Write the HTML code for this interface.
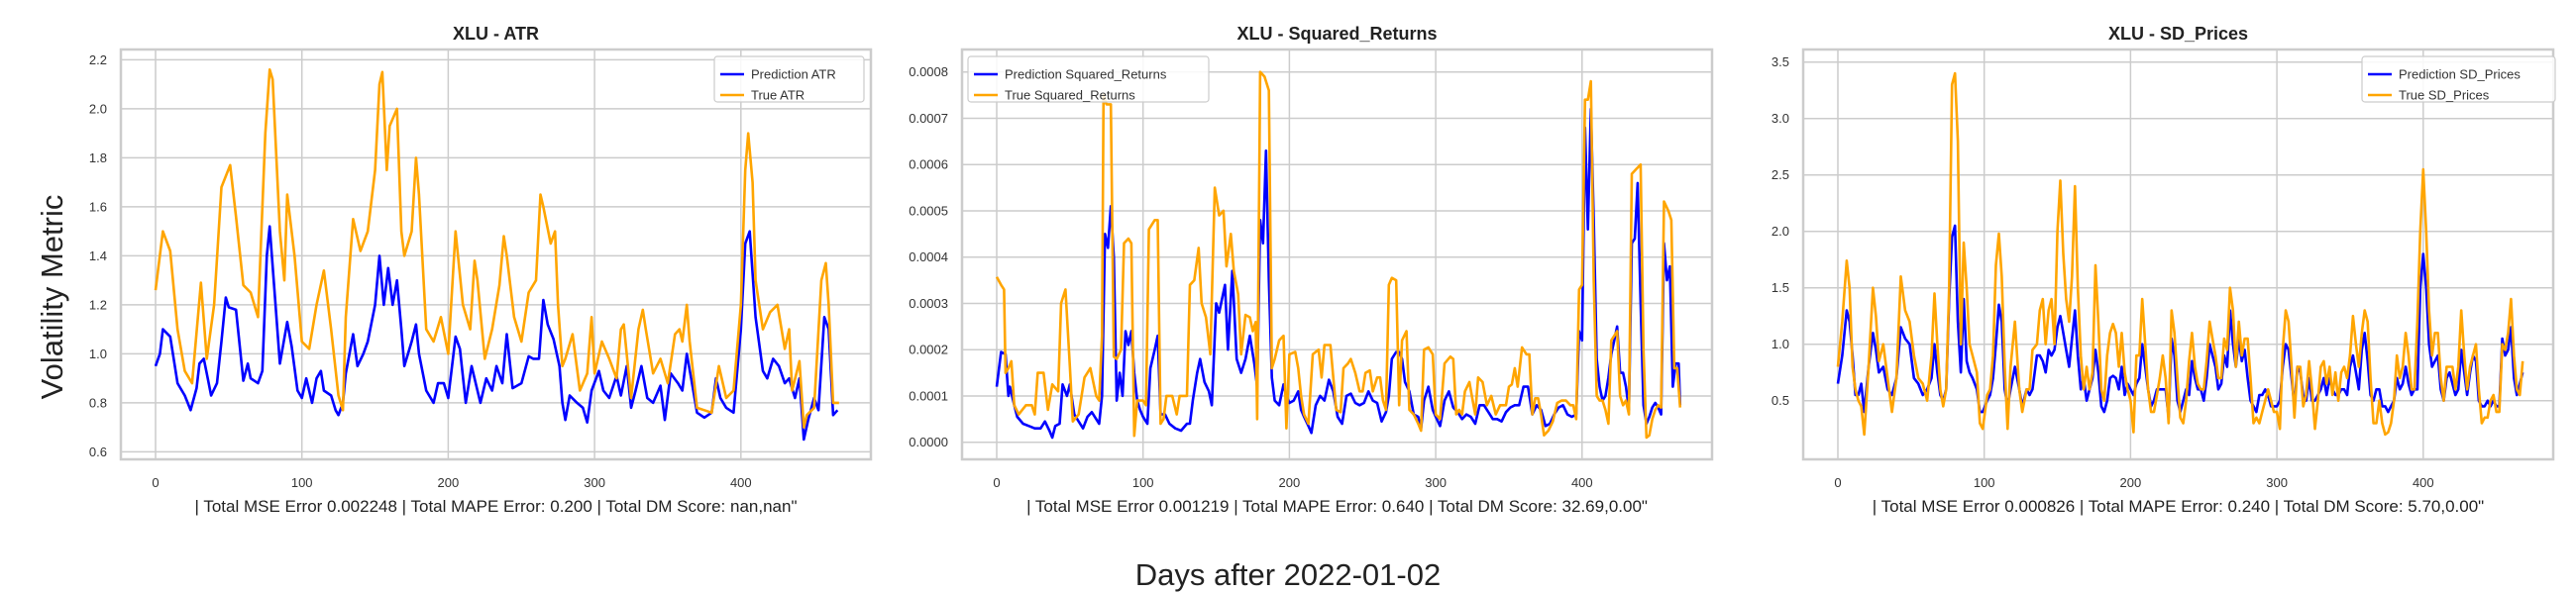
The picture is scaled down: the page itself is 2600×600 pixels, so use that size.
<!DOCTYPE html>
<html><head><meta charset="utf-8"><style>
html,body{margin:0;padding:0;background:#fff;}
svg{display:block;font-family:"Liberation Sans","DejaVu Sans",sans-serif;}
</style></head><body>
<svg id="chart" width="2600" height="600" viewBox="0 0 2600 600" xmlns="http://www.w3.org/2000/svg">
<text x="63" y="300" font-size="31" fill="#222" text-anchor="middle" transform="rotate(-90 63 300)">Volatility Metric</text>
<text x="1300" y="591" font-size="31" fill="#222" text-anchor="middle">Days after 2022-01-02</text>
</svg>
<script>
// ---------- ATR ----------
const atrTrueDays=[0,5,10,15,20,25,31,35,40,45,51,55,60,65,70,75,78,80,85,88,90,95,100,105,110,115,120,125,128,130,135,140,145,150,153,155,158,160,165,168,170,175,178,180,185,190,195,200,205,210,215,218,220,225,230,235,238,240,245,250,255,260,263,265,270,273,275,278,280,285,290,295,298,300,305,310,315,318,320,325,330,333,335,340,345,350,355,358,360,363,365,370,375,380,385,390,395,400,403,405,408,410,415,420,425,430,433,435,440,443,445,450,455,458,460,463,467];
const atrTrueVals=[1.26,1.5,1.42,1.1,0.93,0.88,1.29,0.98,1.2,1.68,1.77,1.56,1.28,1.25,1.15,1.9,2.16,2.12,1.5,1.3,1.65,1.4,1.05,1.02,1.2,1.34,1.1,0.83,0.77,1.15,1.55,1.42,1.5,1.75,2.1,2.15,1.75,1.93,2.0,1.5,1.4,1.5,1.8,1.65,1.1,1.05,1.15,1.0,1.5,1.2,1.1,1.38,1.3,0.98,1.1,1.28,1.48,1.4,1.15,1.05,1.25,1.3,1.65,1.6,1.45,1.5,1.2,0.95,0.98,1.08,0.85,0.92,1.15,0.92,1.05,0.98,0.9,1.1,1.12,0.82,1.1,1.18,1.1,0.92,0.98,0.88,1.08,1.1,1.05,1.2,1.05,0.78,0.77,0.76,0.95,0.82,0.85,1.2,1.75,1.9,1.7,1.3,1.1,1.17,1.2,1.02,1.1,0.85,0.97,0.7,0.75,0.78,1.3,1.37,1.2,0.8,0.8];
const atrPredDays=[0,3,5,10,15,20,24,28,30,33,35,38,42,45,48,50,55,60,63,65,70,73,76,78,82,85,90,93,97,100,103,107,110,113,115,120,123,125,128,130,135,138,142,145,150,153,156,159,162,165,168,170,175,178,180,185,190,193,197,200,205,208,212,216,220,222,226,230,233,237,240,244,250,255,258,262,265,268,272,276,278,280,283,288,292,295,298,303,306,310,315,318,322,325,328,332,336,340,345,348,352,357,360,363,366,370,375,380,383,386,390,395,400,403,406,410,415,418,422,426,430,433,437,440,443,446,450,453,457,460,463,466];
const atrPredVals=[0.95,1.0,1.1,1.07,0.88,0.83,0.77,0.86,0.96,0.98,0.92,0.83,0.88,1.05,1.23,1.19,1.18,0.89,0.96,0.9,0.88,0.93,1.4,1.52,1.2,0.96,1.13,1.03,0.85,0.82,0.9,0.8,0.9,0.93,0.85,0.83,0.77,0.75,0.8,0.92,1.08,0.95,1.0,1.05,1.2,1.4,1.2,1.35,1.2,1.3,1.1,0.95,1.05,1.12,1.0,0.85,0.8,0.88,0.88,0.82,1.07,1.02,0.8,0.95,0.85,0.8,0.9,0.85,0.95,0.88,1.08,0.86,0.88,0.99,0.98,0.98,1.22,1.12,1.06,0.95,0.8,0.73,0.83,0.8,0.78,0.72,0.85,0.93,0.85,0.82,0.91,0.83,0.95,0.78,0.85,0.95,0.82,0.8,0.87,0.73,0.92,0.88,0.85,1.0,0.9,0.76,0.74,0.76,0.9,0.82,0.78,0.76,1.1,1.45,1.5,1.15,0.93,0.9,0.98,0.95,0.88,0.9,0.82,0.9,0.65,0.73,0.82,0.77,1.15,1.1,0.75,0.77];
const atrTicksY=[0.6,0.8,1.0,1.2,1.4,1.6,1.8,2.0,2.2];
const atrTickLabels=["0.6","0.8","1.0","1.2","1.4","1.6","1.8","2.0","2.2"];
// ---------- Squared Returns (units of 1e-4) ----------
const srTrueDays=[0,3,5,6,8,10,12,15,20,24,26,28,32,35,38,42,44,47,50,52,56,60,64,68,70,72,73,75,78,80,82,85,87,90,92,94,96,100,102,104,108,110,112,114,116,120,123,125,128,130,132,135,138,140,143,146,149,152,155,157,160,162,165,167,170,173,175,177,178,180,183,186,188,190,193,196,198,200,204,206,208,210,213,216,220,222,224,228,230,232,235,237,240,242,245,248,250,252,255,257,260,262,264,266,268,270,273,275,277,280,282,285,288,290,292,295,298,300,303,306,310,312,314,316,318,320,323,325,327,329,332,335,338,341,344,346,348,350,352,354,356,359,362,364,366,368,370,372,374,377,380,383,386,389,392,394,396,398,400,402,404,406,408,410,412,414,416,418,420,422,424,426,428,430,432,434,437,440,442,444,446,448,450,452,454,456,459,461,463,465,467];
const srTrueVals=[3.57,3.4,3.3,1.5,1.6,1.75,0.8,0.6,0.8,0.8,0.6,1.5,1.5,0.7,1.25,1.1,3.0,3.3,1.65,0.45,0.6,1.4,1.6,1.0,0.9,2.3,7.5,7.3,7.3,1.85,1.8,2.0,4.3,4.4,4.3,0.14,0.9,0.9,0.8,4.6,4.8,4.8,0.4,0.5,1.0,1.0,0.6,1.0,1.0,1.0,3.4,3.5,4.2,3.0,2.7,1.9,5.5,4.9,5.0,3.8,4.5,3.7,3.2,1.9,2.75,2.7,2.4,2.6,0.5,8.0,7.9,7.6,1.6,1.8,2.2,2.3,0.3,1.9,1.95,1.6,1.0,0.6,0.4,1.9,2.0,1.4,2.1,2.1,1.4,0.7,0.65,1.6,1.7,1.8,1.5,1.1,1.1,1.5,1.55,1.1,1.4,1.4,0.9,0.7,3.4,3.55,3.5,0.8,2.2,2.4,0.7,0.6,0.4,0.25,2.0,2.05,1.9,0.6,0.5,1.7,1.85,1.8,0.6,0.7,0.6,1.1,1.3,0.95,0.6,1.4,1.3,0.8,1.0,0.6,0.8,0.8,0.8,1.2,1.25,1.6,1.2,2.05,1.9,1.9,0.6,0.95,0.95,0.6,0.15,0.25,0.45,0.85,0.9,0.9,0.8,0.8,0.5,3.3,3.4,7.4,7.4,7.8,3.5,1.0,0.9,0.9,0.7,0.4,2.2,2.3,2.4,1.0,0.8,0.9,0.6,5.8,5.9,6.0,2.0,0.1,0.15,0.5,0.7,0.8,0.75,5.2,5.0,4.8,1.6,1.6,0.75];
const srPredDays=[0,3,6,8,9,12,14,18,22,26,30,33,36,38,40,43,45,48,50,53,56,59,62,65,68,70,72,74,76,78,80,82,84,86,88,90,92,94,96,98,100,103,105,108,110,112,115,118,122,126,130,132,134,137,139,142,145,147,150,152,156,158,161,164,167,170,173,176,178,180,182,184,186,188,190,193,196,198,200,203,206,208,210,213,215,218,221,224,227,230,233,236,239,242,245,248,251,254,257,260,263,266,268,270,273,275,277,279,282,285,288,290,292,295,298,300,303,306,309,312,315,318,321,324,327,330,333,336,339,342,345,348,351,354,357,360,363,366,369,372,375,378,381,384,387,390,393,396,398,400,402,404,406,408,410,412,414,416,418,420,422,424,426,428,430,432,434,436,438,440,442,444,446,448,450,452,454,456,458,460,462,464,466,467];
const srPredVals=[1.2,1.95,1.9,1.0,1.2,0.8,0.55,0.4,0.35,0.3,0.3,0.45,0.25,0.1,0.35,0.4,1.25,1.0,1.25,0.6,0.45,0.3,0.55,0.65,0.5,0.4,1.0,4.5,4.2,5.1,4.0,0.9,1.5,1.0,2.4,2.1,2.4,1.5,0.9,0.7,0.55,0.4,1.6,2.0,2.3,0.6,0.6,0.4,0.3,0.25,0.4,0.4,0.9,1.5,1.8,1.3,1.1,0.8,3.0,2.8,3.4,2.0,3.7,1.8,1.5,1.8,2.3,1.7,1.2,4.8,4.3,6.3,3.5,1.4,0.9,0.8,1.25,1.0,0.85,0.9,1.1,0.7,0.55,0.35,0.2,0.8,1.0,0.9,1.35,1.1,0.55,0.4,1.0,1.05,0.85,0.8,0.85,1.1,0.9,0.85,0.45,0.65,1.0,1.8,1.95,1.95,1.8,1.3,1.1,0.6,0.55,0.3,0.9,1.2,0.7,0.55,0.35,0.9,1.1,0.75,0.65,0.5,0.6,0.55,0.4,0.8,0.8,0.65,0.5,0.5,0.45,0.65,0.75,0.8,0.8,1.2,1.2,0.6,0.8,0.7,0.35,0.4,0.6,0.75,0.8,0.6,0.55,0.6,2.4,2.2,6.8,4.6,7.2,4.8,1.8,1.2,0.9,1.0,1.4,1.9,2.2,2.5,1.5,1.5,1.2,0.7,4.3,4.4,5.6,3.0,0.8,0.4,0.55,0.75,0.85,0.75,0.6,4.3,3.5,3.8,1.2,1.7,1.7,0.8];
const srTicksY=[0,1,2,3,4,5,6,7,8];
const srTickLabels=["0.0000","0.0001","0.0002","0.0003","0.0004","0.0005","0.0006","0.0007","0.0008"];
// ---------- SD Prices ----------
const sdDays=[0,3,6,8,10,12,14,16,18,21,24,26,28,31,34,37,40,43,46,49,52,55,58,61,64,66,68,70,72,74,76,78,80,82,84,86,88,90,92,95,97,99,102,104,106,108,110,112,114,116,118,121,124,126,129,131,133,136,138,140,142,144,146,148,150,152,154,156,158,160,162,164,166,168,170,172,174,176,178,180,182,184,186,188,190,192,194,196,198,200,202,204,206,208,210,212,214,216,218,220,222,224,226,228,230,232,234,236,238,240,242,244,246,248,250,252,254,256,258,260,262,264,266,268,270,272,274,276,278,280,282,284,286,288,290,292,294,296,298,300,302,304,306,308,310,312,314,316,318,320,322,324,326,328,330,332,334,336,338,340,342,344,346,348,350,352,354,356,358,360,362,364,366,368,370,372,374,376,378,380,382,384,386,388,390,392,394,396,398,400,402,404,406,408,410,412,414,416,418,420,422,424,426,428,430,432,434,436,438,440,442,444,446,448,450,452,454,456,458,460,462,464,466,468];
const sdTrueVals=[0.8,1.2,1.74,1.5,0.8,0.6,0.5,0.45,0.2,0.8,1.5,1.25,0.85,1.0,0.7,0.4,0.7,1.6,1.3,1.2,0.9,0.7,0.65,0.5,0.9,1.45,1.0,0.6,0.45,0.6,1.5,3.3,3.4,2.8,1.0,1.9,1.5,1.0,0.9,0.75,0.3,0.25,0.55,0.6,0.9,1.7,1.98,1.6,0.8,0.25,0.8,1.2,0.6,0.4,0.6,0.6,0.95,1.0,1.3,1.4,1.0,1.3,1.4,1.0,2.0,2.45,1.8,1.4,1.2,1.6,2.4,1.5,0.9,0.6,0.8,0.6,0.75,1.7,1.2,0.6,0.5,0.9,1.1,1.18,1.1,0.8,1.1,0.75,0.6,0.5,0.22,0.9,0.9,1.4,1.0,0.6,0.4,0.4,0.55,0.7,0.9,0.7,0.3,1.3,1.1,0.7,0.35,0.3,0.5,0.85,1.1,0.8,0.65,0.6,0.6,0.85,1.2,1.05,0.9,0.7,0.7,1.05,0.95,1.5,1.3,0.8,1.2,0.9,1.05,1.05,0.7,0.3,0.35,0.3,0.4,0.5,0.6,0.5,0.4,0.4,0.25,0.95,1.3,1.2,0.8,0.35,0.8,0.8,0.45,0.55,0.85,0.6,0.25,0.5,0.8,0.85,0.65,0.8,0.55,0.75,0.5,0.75,0.8,0.7,0.9,1.25,1.0,0.8,1.1,1.3,1.2,0.7,0.3,0.3,0.5,0.3,0.2,0.22,0.3,0.5,0.9,0.7,0.8,1.1,0.9,0.6,0.6,1.2,2.0,2.55,2.0,1.3,0.9,1.1,1.1,0.7,0.5,0.8,0.8,0.8,0.6,0.8,1.3,0.9,0.6,0.8,0.9,1.0,0.6,0.3,0.35,0.35,0.5,0.55,0.4,0.4,1.0,0.95,1.1,1.4,0.9,0.6,0.55,0.85];
const sdPredVals=[0.65,0.9,1.3,1.2,0.9,0.55,0.55,0.65,0.4,0.8,1.1,0.95,0.75,0.8,0.6,0.55,0.7,1.15,1.05,1.0,0.7,0.65,0.55,0.6,0.7,1.0,0.75,0.55,0.5,0.6,1.4,1.95,2.05,1.2,0.75,1.4,0.85,0.75,0.7,0.6,0.4,0.4,0.5,0.55,0.7,1.0,1.35,1.2,0.6,0.45,0.6,0.8,0.6,0.45,0.6,0.55,0.6,0.9,0.9,0.85,0.75,0.95,0.9,0.95,1.15,1.25,1.1,0.95,0.8,1.05,1.3,0.9,0.6,0.7,0.5,0.6,0.7,0.95,0.75,0.45,0.4,0.5,0.7,0.72,0.7,0.6,0.8,0.55,0.65,0.6,0.55,0.65,0.7,1.0,0.8,0.6,0.45,0.5,0.6,0.6,0.6,0.6,0.35,1.05,0.9,0.5,0.4,0.5,0.6,0.55,0.85,0.7,0.6,0.6,0.5,0.7,1.0,0.9,0.8,0.6,0.65,0.9,0.8,1.3,1.0,0.8,1.05,0.85,0.95,0.7,0.5,0.45,0.4,0.55,0.55,0.6,0.55,0.45,0.45,0.45,0.5,0.8,1.0,0.95,0.7,0.45,0.8,0.75,0.55,0.5,0.7,0.5,0.5,0.55,0.6,0.7,0.55,0.7,0.6,0.55,0.55,0.6,0.6,0.55,0.8,0.9,0.75,0.6,0.95,1.1,0.85,0.55,0.5,0.6,0.6,0.45,0.45,0.4,0.45,0.5,0.7,0.6,0.65,0.8,0.65,0.55,0.6,0.6,1.5,1.8,1.5,1.0,0.8,0.85,0.9,0.6,0.5,0.7,0.75,0.65,0.55,0.6,0.95,0.75,0.55,0.75,0.9,0.85,0.5,0.45,0.45,0.5,0.45,0.5,0.45,0.45,1.05,0.9,0.95,1.15,0.7,0.55,0.65,0.75];
const sdTicksY=[0.5,1.0,1.5,2.0,2.5,3.0,3.5];
const sdTickLabels=["0.5","1.0","1.5","2.0","2.5","3.0","3.5"];
const xTicks=[0,100,200,300,400];

const NS="http://www.w3.org/2000/svg";
const svg=document.getElementById('chart');
function mk(tag,attrs,parent){const e=document.createElementNS(NS,tag);for(const k in attrs)e.setAttribute(k,attrs[k]);(parent||svg).appendChild(e);return e;}

function panel(cfg){
  const g=mk('g',{});
  
  
  const L=cfg.left,T=50,W=757,H=414;
  const x0=L+35,ppd=1.477;
  const xs=d=>x0+d*ppd;
  const ys=v=>cfg.yTop+(cfg.vTop-v)*cfg.ppu;
  // frame background
  const frame=mk('rect',{x:L,y:T,width:W,height:H,fill:'#fff',stroke:'#cccccc','stroke-width':2.5},g);
  
  
  xTicks.forEach(t=>{
    const ln=mk('line',{x1:xs(t),x2:xs(t),y1:T,y2:T+H,stroke:'#cccccc','stroke-width':1.5},g);
    
    
    const tx=mk('text',{x:xs(t),y:T+H+28,'font-size':13,fill:'#333','text-anchor':'middle'},g);
    tx.textContent=t;
    
    
  });
  cfg.ticks.forEach((t,i)=>{
    const ln=mk('line',{x1:L,x2:L+W,y1:ys(t),y2:ys(t),stroke:'#cccccc','stroke-width':1.5},g);
    
    
    const tx=mk('text',{x:L-14,y:ys(t)+4.5,'font-size':13,fill:'#333','text-anchor':'end'},g);
    tx.textContent=cfg.labels[i];
    
    
  });
  const title=mk('text',{x:L+W/2,y:40,'font-size':18,'font-weight':'bold',fill:'#222','text-anchor':'middle'},g);
  title.textContent=cfg.title;
  
  
  const foot=mk('text',{x:L+W/2,y:517,'font-size':17,fill:'#222','text-anchor':'middle'},g);
  foot.textContent=cfg.footer;
  
  
  const path=(days,vals,color,nm)=>{
    const d=days.map((dd,i)=>(i?'L':'M')+xs(dd).toFixed(1)+','+ys(vals[i]).toFixed(1)).join('');
    const p=mk('path',{d:d,fill:'none',stroke:color,'stroke-width':2.6,'stroke-linejoin':'round'},g);
    
    
  };
  path(cfg.predDays,cfg.pred,'#0000ff','prediction-line');
  path(cfg.trueDays,cfg.tru,'#ffa500','true-line');
  // legend
  const lg=mk('g',{},g);
  
  
  const lx=cfg.legX,ly=57;
  mk('rect',{x:lx,y:ly,width:cfg.legW,height:46,rx:3,fill:'#fff','fill-opacity':0.85,stroke:'#cccccc','stroke-width':1.2},lg);
  [[cfg.predLabel,'#0000ff',75],[cfg.trueLabel,'#ffa500',96]].forEach(([lab,c,yy])=>{
    const ln=mk('line',{x1:lx+6,x2:lx+30,y1:yy,y2:yy,stroke:c,'stroke-width':2.6},lg);
    
    
    const t=mk('text',{x:lx+37,y:yy+4.5,'font-size':13,fill:'#333'},lg);
    t.textContent=lab;
    
    
  });
}
panel({name:'atr-panel',left:122,title:'XLU - ATR',footer:'| Total MSE Error 0.002248 | Total MAPE Error: 0.200 | Total DM Score: nan,nan"',
  yTop:60.4,vTop:2.2,ppu:247.5,ticks:atrTicksY,labels:atrTickLabels,
  predDays:atrPredDays,pred:atrPredVals,trueDays:atrTrueDays,tru:atrTrueVals,
  legX:721,legW:151,predLabel:'Prediction ATR',trueLabel:'True ATR'});
panel({name:'squared-returns-panel',left:971,title:'XLU - Squared_Returns',footer:'| Total MSE Error 0.001219 | Total MAPE Error: 0.640 | Total DM Score: 32.69,0.00"',
  yTop:72.7,vTop:8,ppu:46.75,ticks:srTicksY,labels:srTickLabels,
  predDays:srPredDays,pred:srPredVals,trueDays:srTrueDays,tru:srTrueVals,
  legX:977,legW:243,predLabel:'Prediction Squared_Returns',trueLabel:'True Squared_Returns'});
panel({name:'sd-prices-panel',left:1820,title:'XLU - SD_Prices',footer:'| Total MSE Error 0.000826 | Total MAPE Error: 0.240 | Total DM Score: 5.70,0.00"',
  yTop:62.7,vTop:3.5,ppu:114,ticks:sdTicksY,labels:sdTickLabels,
  predDays:sdDays,pred:sdPredVals,trueDays:sdDays,tru:sdTrueVals,
  legX:2384,legW:195,predLabel:'Prediction SD_Prices',trueLabel:'True SD_Prices'});
</script>
</body></html>
